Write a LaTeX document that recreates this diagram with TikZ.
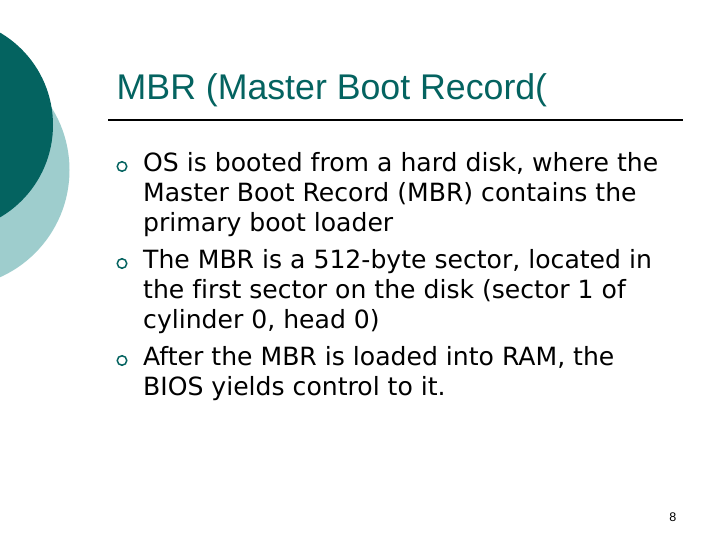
\documentclass[tikz,border=0pt]{standalone}
\usepackage{fontspec}
\usepackage{tikz}
\usetikzlibrary{positioning}
\setmainfont[Ligatures=NoCommon]{DejaVu Sans}
\newfontfamily\titlefamily{Liberation Sans}
\definecolor{slideteal}{RGB}{4,99,96}
\definecolor{slidelight}{RGB}{158,205,205}
\newcommand{\titlefont}{\titlefamily\fontsize{35.7}{40}\selectfont}
\newcommand{\bodyfont}{\fontsize{25.1}{30}\selectfont}

\begin{document}
\begin{tikzpicture}[x=1pt,y=-1pt]
      \tikzset{
        bodyline/.style={anchor=base west,inner sep=0pt,font=\bodyfont},
        bulletmark/.style={circle,draw=slideteal,line width=1.5pt,minimum size=9.5pt,inner sep=0pt},
        nextline/.style={below=30pt of #1.base west,anchor=base west},
        nextitem/.style={below=37pt of #1.base west,anchor=base west}
      }
      \useasboundingbox (0,0) rectangle (720,540);
      \fill[white] (0,0) rectangle (720,540);
      \begin{scope}
        \clip (0,0) rectangle (720,540);
        \fill[slidelight] (-48,170) circle (117.5);
        \fill[slideteal] (-54,125) circle (107);
      \end{scope}

      \node [anchor=base west,inner sep=0pt,font=\titlefont,text=slideteal] (title) at (116.5,99.5) {MBR (Master Boot Record(};
      \coordinate (rule1) at (108,120);
      \coordinate (rule2) at (683,120);
      \draw[line width=2pt] (rule1) -- (rule2);

      \node [bodyline] (1a) at (143,171.5) {OS is booted from a hard disk, where the};
      \node [bodyline,nextline=1a] (1b) {Master Boot Record (MBR) contains the};
      \node [bodyline,nextline=1b] (1c) {primary boot loader};
      \node [bodyline,nextitem=1c] (2a) {The MBR is a 512-byte sector, located in};
      \node [bodyline,nextline=2a] (2b) {the first sector on the disk (sector 1 of};
      \node [bodyline,nextline=2b] (2c) {cylinder 0, head 0)};
      \node [bodyline,nextitem=2c] (3a) {After the MBR is loaded into RAM, the};
      \node [bodyline,nextline=3a] (3b) {BIOS yields control to it.};

      \node [bulletmark] (b1) at ([xshift=-21pt,yshift=5pt]1a.base west) {};
      \node [bulletmark] (b2) at ([xshift=-21pt,yshift=5pt]2a.base west) {};
      \node [bulletmark] (b3) at ([xshift=-21pt,yshift=5pt]3a.base west) {};

      \node [anchor=base east,inner sep=0pt,font=\titlefamily\fontsize{12.5}{14}\selectfont] (page) at (676.5,521.5) {8};
    \end{tikzpicture}
\end{document}
